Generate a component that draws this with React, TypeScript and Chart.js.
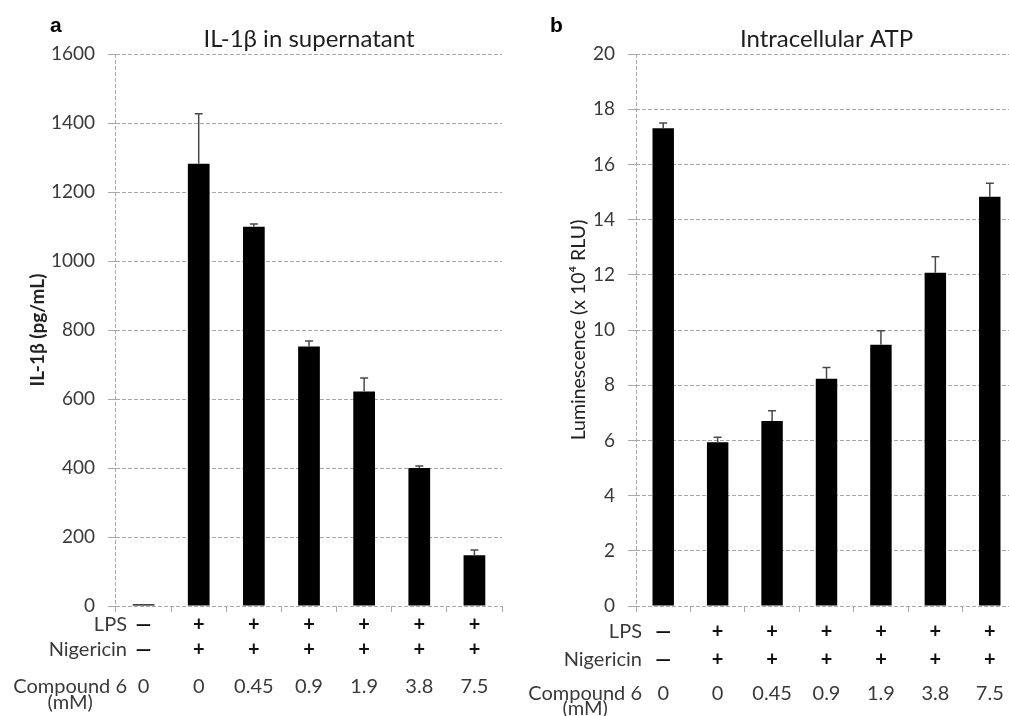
import React, { useEffect, useRef } from "react";
import { Chart, registerables } from "chart.js";

Chart.register(...registerables);

// ---------- data ----------
const categories = ["0", "0", "0.45", "0.9", "1.9", "3.8", "7.5"];
const lpsRow = ["—", "+", "+", "+", "+", "+", "+"];
const nigericinRow = ["—", "+", "+", "+", "+", "+", "+"];
const rowHeaders = ["LPS", "Nigericin", "Compound 6", "(mM)"];

const il1bValues = [5, 1282, 1099, 752, 622, 400, 147];
const il1bErrors = [0, 145, 8, 16, 39, 6, 15];

const atpValues = [17.31, 5.93, 6.7, 8.23, 9.47, 12.07, 14.83];
const atpErrors = [0.19, 0.18, 0.37, 0.41, 0.5, 0.58, 0.49];

const il1bAxis = { min: 0, max: 1600, step: 200 };
const atpAxis = { min: 0, max: 20, step: 2 };

const titleA = "IL-1β in supernatant";
const titleB = "Intracellular ATP";
const yTitleA = "IL-1β (pg/mL)";
const yTitleB = "Luminescence (x 10⁴ RLU)";

// ---------- styling ----------
const FONT = "Lato, 'Open Sans', sans-serif";
const GRID = "#a8a8a8";
const TEXT = "#3a3a3a";

type PanelLayout = {
  letter: string;
  letterX: number;
  letterY: number;
  yWidth: number;
  rightPad: number;
  headerRight: number;
  rowY: number[];
  yTitleCenter: number;
  yTitleSize: number;
  yTitleBold: boolean;
};

function makePlugins(layout: PanelLayout) {
  const errorBars = {
    id: "errorBars",
    afterDatasetsDraw(chart: any) {
      const { ctx } = chart;
      const ds = chart.data.datasets[0];
      const meta = chart.getDatasetMeta(0);
      const y = chart.scales.y;
      ctx.save();
      ctx.strokeStyle = "#4a4a4a";
      ctx.lineWidth = 1.5;
      meta.data.forEach((bar: any, i: number) => {
        const err = ds.errors[i];
        if (!err) return;
        const top = y.getPixelForValue(ds.data[i] + err);
        ctx.beginPath();
        ctx.moveTo(bar.x, bar.y);
        ctx.lineTo(bar.x, top);
        ctx.moveTo(bar.x - 4, top);
        ctx.lineTo(bar.x + 4, top);
        ctx.stroke();
      });
      ctx.restore();
    },
  };

  const table = {
    id: "tableRows",
    afterDraw(chart: any) {
      const { ctx } = chart;
      const x = chart.scales.x;
      ctx.save();
      ctx.fillStyle = TEXT;
      ctx.textBaseline = "middle";
      ctx.font = `20px ${FONT}`;
      ctx.textAlign = "right";
      ctx.fillText(rowHeaders[0], layout.headerRight, layout.rowY[0]);
      ctx.fillText(rowHeaders[1], layout.headerRight, layout.rowY[1]);
      ctx.fillText(rowHeaders[2], layout.headerRight, layout.rowY[2]);
      const w = ctx.measureText(rowHeaders[2]).width;
      ctx.textAlign = "center";
      ctx.fillText(rowHeaders[3], layout.headerRight - w / 2, layout.rowY[3]);
      ctx.fillStyle = "#111";
      ctx.font = `bold 20px ${FONT}`;
      categories.forEach((c, i) => {
        const px = x.getPixelForValue(i);
        ctx.fillText(lpsRow[i], px, layout.rowY[0]);
        ctx.fillText(nigericinRow[i], px, layout.rowY[1]);
      });
      ctx.fillStyle = TEXT;
      ctx.font = `20px ${FONT}`;
      categories.forEach((c, i) => {
        const px = x.getPixelForValue(i);
        ctx.fillText(c, px, layout.rowY[2]);
      });
      ctx.fillStyle = "#000";
      ctx.font = `bold 21px 'Liberation Sans', Arial, sans-serif`;
      ctx.textAlign = "left";
      ctx.textBaseline = "alphabetic";
      ctx.fillText(layout.letter, layout.letterX, layout.letterY);
      ctx.restore();
    },
  };
  return [errorBars, table];
}

function makeConfig(
  values: number[],
  errors: number[],
  axis: { min: number; max: number; step: number },
  title: string,
  yTitle: string,
  layout: PanelLayout
): any {
  const yTitleFontSize = layout.yTitleSize;
  const yTitleLH = yTitleFontSize * 1.2;
  return {
    type: "bar",
    data: {
      labels: categories,
      datasets: [
        {
          data: values,
          errors: errors,
          backgroundColor: "#000",
          borderWidth: 0,
          barPercentage: 0.394,
          categoryPercentage: 1,
        },
      ],
    },
    options: {
      responsive: false,
      animation: false,
      layout: { padding: { left: 0, right: layout.rightPad, top: 0, bottom: 0 } },
      plugins: {
        legend: { display: false },
        tooltip: { enabled: false },
        title: {
          display: true,
          text: title,
          fullSize: false,
          color: "#1e1e1e",
          font: { family: FONT, size: 24, weight: "normal", lineHeight: 1.2 },
          padding: { top: 24.6, bottom: 0.6 },
        },
      },
      scales: {
        x: {
          offset: true,
          afterFit(scale: any) {
            scale.height = 110;
          },
          ticks: { display: false },
          border: { display: false, dash: [4, 2] },
          grid: {
            offset: true,
            drawOnChartArea: true,
            color: (ctx: any) => (ctx.index === 0 ? GRID : "rgba(0,0,0,0)"),
            tickColor: GRID,
            tickLength: 6,
            lineWidth: 1,
          },
        },
        y: {
          min: axis.min,
          max: axis.max,
          afterFit(scale: any) {
            scale.width = layout.yWidth;
          },
          ticks: {
            stepSize: axis.step,
            color: TEXT,
            padding: 13,
            font: { family: FONT, size: 19 },
            callback: (v: number) => String(v),
          },
          border: { display: false, dash: [4, 2] },
          grid: {
            color: GRID,
            tickColor: GRID,
            tickLength: 8,
            lineWidth: 1,
          },
          title: {
            display: true,
            text: yTitle,
            color: "#222",
            font: {
              family: FONT,
              size: yTitleFontSize,
              weight: layout.yTitleBold ? "bold" : "normal",
              lineHeight: 1.2,
            },
            padding: { top: layout.yTitleCenter - yTitleLH / 2, bottom: 0 },
          },
        },
      },
    },
    plugins: makePlugins(layout),
  };
}

const layoutA: PanelLayout = {
  letter: "a",
  letterX: 50,
  letterY: 32,
  yWidth: 116,
  rightPad: 2,
  headerRight: 127,
  rowY: [625, 650, 687, 703],
  yTitleCenter: 38,
  yTitleSize: 19,
  yTitleBold: true,
};

const layoutB: PanelLayout = {
  letter: "b",
  letterX: 45,
  letterY: 32,
  yWidth: 131,
  rightPad: 2,
  headerRight: 137,
  rowY: [632, 660, 694, 709],
  yTitleCenter: 74,
  yTitleSize: 19.5,
  yTitleBold: false,
};

function Panel(props: {
  left: number;
  width: number;
  values: number[];
  errors: number[];
  axis: { min: number; max: number; step: number };
  title: string;
  yTitle: string;
  layout: PanelLayout;
}) {
  const ref = useRef<HTMLCanvasElement | null>(null);
  useEffect(() => {
    if (!ref.current) return;
    const chart = new Chart(
      ref.current,
      makeConfig(props.values, props.errors, props.axis, props.title, props.yTitle, props.layout)
    );
    return () => chart.destroy();
  }, []);
  return (
    <div style={{ position: "absolute", left: props.left, top: 0, width: props.width, height: 716 }}>
      <canvas ref={ref} width={props.width} height={716} style={{ display: "block" }} />
    </div>
  );
}

export default function App() {
  return (
    <div
      style={{
        position: "fixed",
        left: 0,
        top: 0,
        width: 1009,
        height: 716,
        overflow: "hidden",
        background: "#fff",
      }}
    >
      <Panel
        left={0}
        width={504}
        values={il1bValues}
        errors={il1bErrors}
        axis={il1bAxis}
        title={titleA}
        yTitle={yTitleA}
        layout={layoutA}
      />
      <Panel
        left={505}
        width={514}
        values={atpValues}
        errors={atpErrors}
        axis={atpAxis}
        title={titleB}
        yTitle={yTitleB}
        layout={layoutB}
      />
    </div>
  );
}
